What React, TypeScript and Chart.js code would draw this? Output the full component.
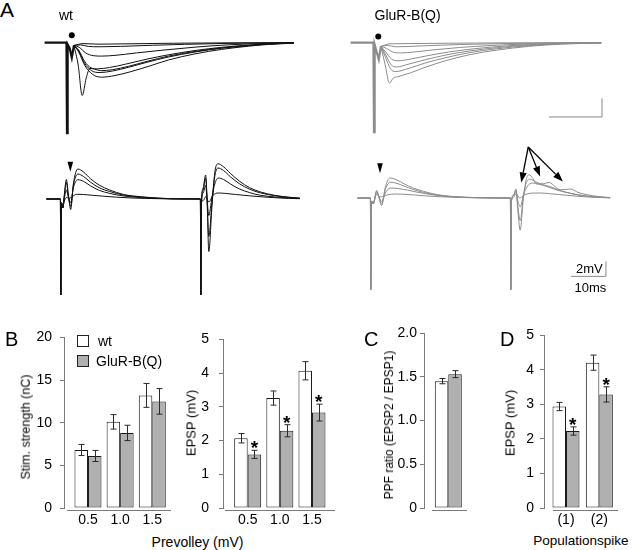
import React, { useEffect, useRef } from "react";
import { Chart, registerables } from "chart.js";

Chart.register(...registerables);

const FONT = '"Liberation Sans", Arial, Helvetica, sans-serif';
Chart.defaults.font.family = FONT;

type P = [number, number];

// ---------------- Panel A: field potential traces (time ms after stimulus, mV) ----------------
const wtTopStim: P[] = [[-4.2, 0], [-0.1, 0], [0, -4.85], [0.12, -0.1], [0.5, -0.3], [0.9, -0.8], [1.3, -0.15]];
const wtTopTraces: P[][] = [
  [[1.3, -0.15], [3, -0.05], [6, -0.08], [12, -0.06], [20, -0.03], [30, -0.01], [42.5, 0]],
  [[1.3, -0.15], [2.5, -0.12], [4, -0.2], [6, -0.22], [10, -0.2], [16, -0.14], [22, -0.09], [30, -0.04], [38, -0.01], [42.5, 0]],
  [[1.3, -0.15], [2.3, -0.25], [3.5, -0.55], [5, -0.7], [6.5, -0.72], [9, -0.68], [13, -0.55], [18, -0.4], [24, -0.24], [30, -0.12], [36, -0.05], [42.5, -0.01]],
  [[1.3, -0.15], [2.2, -0.4], [3.3, -1.0], [4.5, -1.35], [5.8, -1.4], [8, -1.33], [11, -1.15], [15, -0.88], [19, -0.65], [24, -0.42], [29, -0.25], [34, -0.13], [38, -0.06], [42.5, -0.02]],
  [[1.3, -0.15], [2.2, -0.45], [3.3, -1.1], [4.6, -1.5], [6.2, -1.6], [8.5, -1.52], [11.5, -1.32], [15, -1.05], [19, -0.77], [24, -0.5], [29, -0.3], [34, -0.16], [38, -0.07], [42.5, -0.02]],
  [[1.3, -0.15], [2.2, -0.5], [3.3, -1.2], [4.8, -1.7], [6.5, -1.85], [9, -1.76], [12, -1.55], [15.5, -1.25], [19, -0.93], [24, -0.6], [29, -0.36], [34, -0.19], [38, -0.09], [42.5, -0.03]],
  [[1.3, -0.15], [2.1, -1.2], [2.85, -2.83], [3.6, -1.9], [4.3, -1.38], [5.2, -1.42], [6.3, -1.5], [8.5, -1.45], [11.5, -1.27], [15, -1.0], [19, -0.72], [24, -0.47], [29, -0.28], [34, -0.15], [38, -0.07], [42.5, -0.02]],
];
const wtTopDot: P[] = [[0.9, 0.4]];

const gluTopStim: P[] = [[-4.4, 0], [-0.1, 0], [0, -4.8], [0.12, -0.1], [0.5, -0.5], [0.9, -0.9], [1.3, -0.2]];
const gluTopTraces: P[][] = [
  [[1.3, -0.2], [3, -0.06], [6, -0.05], [14, -0.03], [25, -0.01], [42.6, 0]],
  [[1.3, -0.2], [2.5, -0.15], [4, -0.22], [6, -0.21], [10, -0.16], [16, -0.1], [24, -0.05], [32, -0.02], [42.6, 0]],
  [[1.3, -0.2], [2.3, -0.3], [3.5, -0.5], [5, -0.55], [7.5, -0.5], [11, -0.39], [16, -0.26], [22, -0.15], [29, -0.07], [36, -0.03], [42.6, 0]],
  [[1.3, -0.2], [2.2, -0.5], [3.3, -0.88], [4.5, -0.97], [7, -0.87], [10, -0.7], [14, -0.5], [19, -0.32], [25, -0.17], [31, -0.08], [37, -0.03], [42.6, -0.01]],
  [[1.3, -0.2], [2.2, -0.65], [3.2, -1.18], [4.2, -1.3], [6.5, -1.15], [9.5, -0.92], [13.5, -0.66], [18, -0.44], [23, -0.27], [29, -0.13], [35, -0.05], [42.6, -0.01]],
  [[1.3, -0.2], [2.1, -0.75], [3.1, -1.4], [4, -1.55], [6.5, -1.38], [9.5, -1.1], [13.5, -0.8], [18, -0.53], [23, -0.33], [29, -0.16], [35, -0.06], [42.6, -0.01]],
  [[1.3, -0.2], [2.1, -1.2], [2.9, -2.17], [3.6, -1.9], [4.4, -1.83], [6.8, -1.62], [9.8, -1.3], [13.5, -0.96], [18, -0.64], [23, -0.4], [29, -0.2], [35, -0.08], [42.6, -0.02]],
];
const gluTopDot: P[] = [[0.8, 0.33]];
const topScaleBar: P[] = [[32.8, -3.98], [42.75, -3.98], [42.75, -2.98]]; // 10 ms, 1 mV

const wtPairTraces: P[][] = [
  [[-4.1, 0], [-0.1, 0], [0, -12.8], [0.2, -0.5], [0.6, -1.2], [1.0, 0.5], [1.6, 2.6], [2.2, 0.5], [2.85, -1.4], [3.6, 2.0], [4.9, 4.0], [6.5, 3.6], [8.5, 2.7], [11, 1.85], [14, 1.2], [18, 0.6], [23, 0.3], [28, 0.12], [34, 0.03], [39.9, 0], [40, -12.8], [40.2, -0.5], [40.7, 1.5], [41.4, 3.2], [41.8, 0], [42.3, -7.0], [43.2, -1.0], [44, 3.5], [44.9, 4.7], [46.5, 4.3], [48.5, 3.4], [51, 2.4], [54, 1.5], [57, 0.95], [61, 0.5], [65, 0.25], [68.3, 0.12]],
  [[-4.1, 0], [-0.1, 0], [0, -12.8], [0.2, -0.5], [0.6, -1.2], [1.0, 0.3], [1.6, 2.2], [2.2, 0.3], [2.85, -1.0], [3.6, 1.8], [4.9, 3.33], [6.5, 3.0], [8.5, 2.25], [11, 1.5], [14, 1.0], [18, 0.52], [23, 0.25], [28, 0.1], [34, 0.02], [39.9, 0], [40, -12.8], [40.2, -0.5], [40.7, 1.2], [41.4, 2.8], [41.8, 0], [42.3, -5.0], [43.2, -0.5], [44, 3.0], [44.9, 4.13], [46.5, 3.8], [48.5, 2.95], [51, 2.05], [54, 1.3], [57, 0.82], [61, 0.45], [65, 0.22], [68.3, 0.1]],
  [[-4.1, 0], [-0.1, 0], [0, -12.8], [0.2, -0.5], [0.6, -1.2], [1.0, 0], [1.6, 1.2], [2.2, 0.2], [2.85, -0.5], [3.6, 1.5], [4.9, 2.57], [6.5, 2.35], [8.5, 1.75], [11, 1.15], [14, 0.75], [18, 0.4], [23, 0.18], [28, 0.07], [34, 0.01], [39.9, 0], [40, -12.8], [40.2, -0.5], [40.7, 0.8], [41.4, 1.8], [41.8, 0], [42.3, -2.2], [43.2, 0.2], [44, 2.0], [45, 2.8], [46.5, 2.6], [48.5, 2.0], [51, 1.35], [54, 0.85], [57, 0.5], [61, 0.28], [65, 0.13], [68.3, 0.06]],
  [[-4.1, 0], [-0.1, 0], [0, -12.8], [0.2, -0.5], [0.6, -1.0], [1.0, -0.3], [1.6, 0.2], [2.4, 0.1], [3.2, 0.3], [4.6, 0.63], [6.5, 0.6], [9, 0.5], [12, 0.38], [16, 0.24], [21, 0.12], [27, 0.05], [33, 0.01], [39.9, 0], [40, -12.8], [40.2, -0.5], [40.7, -0.2], [41.4, 0.3], [42.3, -0.4], [43.5, 0.5], [45, 0.8], [47, 0.75], [50, 0.6], [54, 0.42], [58, 0.27], [62, 0.15], [65, 0.08], [68.3, 0.04]],
];
const wtPairMarker: P[] = [[2.73, 3.64]];

const gluPairTraces: P[][] = [
  [[-3.8, 0], [-0.1, 0], [0, -12.2], [0.2, -0.4], [0.7, -0.8], [1.7, 1.0], [2.4, 0], [3.1, -1.0], [4.2, 1.5], [5.5, 2.67], [7.5, 2.4], [9.5, 1.9], [12, 1.35], [15, 0.9], [19, 0.45], [24, 0.18], [30, 0.06], [36, 0.01], [39.9, 0], [40, -12.2], [40.2, -0.4], [40.8, 0.4], [41.5, 1.2], [42, -1.5], [42.7, -4.3], [43.6, 0], [44.5, 2.6], [45.3, 3.1], [46.3, 2.6], [47.4, 1.87], [49.3, 1.9], [51, 2.08], [52.6, 1.55], [54.1, 1.1], [55.7, 1.12], [57.1, 1.2], [59.2, 0.75], [61.7, 0.44], [65, 0.2], [68.4, 0.05]],
  [[-3.8, 0], [-0.1, 0], [0, -12.2], [0.2, -0.4], [0.7, -0.8], [1.7, 0.9], [2.4, 0], [3.1, -0.8], [4.2, 1.2], [5.6, 2.1], [7.5, 1.95], [9.5, 1.6], [12, 1.15], [15, 0.75], [19, 0.38], [24, 0.15], [30, 0.05], [36, 0.01], [39.9, 0], [40, -12.2], [40.2, -0.4], [40.8, 0.3], [41.5, 1.0], [42, -1.0], [42.7, -3.0], [43.6, 0.2], [44.5, 2.1], [45.5, 2.5], [47, 2.2], [49, 1.8], [51, 1.55], [53.5, 1.1], [56, 0.75], [59, 0.45], [62, 0.25], [65, 0.12], [68.4, 0.04]],
  [[-3.8, 0], [-0.1, 0], [0, -12.2], [0.2, -0.4], [0.7, -0.8], [1.7, 0.7], [2.4, 0.1], [3.1, -0.5], [4.3, 0.8], [5.8, 1.33], [8, 1.25], [10.5, 1.05], [13, 0.8], [16, 0.55], [20, 0.3], [25, 0.12], [31, 0.04], [36, 0.01], [39.9, 0], [40, -12.2], [40.2, -0.4], [40.8, 0.3], [41.5, 0.9], [42, -0.3], [42.7, -1.2], [43.6, 0.4], [44.8, 1.6], [46.2, 2.0], [48, 1.85], [50.5, 1.5], [53, 1.1], [56, 0.72], [59, 0.42], [62, 0.22], [65, 0.1], [68.4, 0.03]],
  [[-3.8, 0], [-0.1, 0], [0, -12.2], [0.2, -0.4], [0.7, -0.6], [1.7, 0.5], [2.6, 0.15], [3.4, 0.2], [5, 0.45], [7, 0.53], [9.5, 0.5], [12.5, 0.4], [16, 0.27], [21, 0.14], [27, 0.05], [33, 0.01], [39.9, 0], [40, -12.2], [40.2, -0.4], [40.8, 0.1], [41.5, 0.6], [42.5, 0], [43.8, 0.4], [46, 0.65], [48.5, 0.67], [51, 0.58], [54, 0.45], [57.5, 0.3], [61, 0.17], [64.5, 0.08], [68.4, 0.03]],
];
const gluPairMarker: P[] = [[2.64, 3.29]];
const gluArrowFrom: P = [45.0, 6.8];
const gluArrowTo: P[] = [[43.0, 2.08], [48.4, 2.88], [54.9, 2.21]];
const pairScaleBar: P[] = [[57.2, -10.45], [67.2, -10.45], [67.2, -8.45]]; // 10 ms, 2 mV

// ---------------- Panels B-D: bar data ----------------
const prevolley = [0.5, 1.0, 1.5];
const prevolleyLabels = ["0.5", "1.0", "1.5"];
const stimWt = [6.8, 10.1, 13.2];
const stimWtErr = [0.65, 0.85, 1.4];
const stimGlu = [6.1, 8.8, 12.5];
const stimGluErr = [0.65, 0.9, 1.5];

const epspWt = [2.07, 3.26, 4.07];
const epspWtErr = [0.14, 0.21, 0.27];
const epspGlu = [1.59, 2.29, 2.83];
const epspGluErr = [0.12, 0.18, 0.25];
const epspSig = [true, true, true];

const ppfCat = [1];
const ppfWt = [1.45];
const ppfWtErr = [0.03];
const ppfGlu = [1.53];
const ppfGluErr = [0.04];

const popCat = [1, 2];
const popLabels = ["(1)", "(2)"];
const popWt = [2.94, 4.21];
const popWtErr = [0.12, 0.22];
const popGlu = [2.23, 3.29];
const popGluErr = [0.12, 0.22];
const popSig = [true, true];

const WT_FILL = "#ffffff";
const GLU_FILL = "#b0b0b0";
const AXIS = "#7a7a7a";

const pts = (a: P[]) => a.map(([x, y]) => ({ x, y }));

function traceConfig(o: {
  stim?: P[];
  traces: P[][];
  color: string;
  dot?: P[];
  scaleBar?: P[];
  markers?: P[];
  arrowFrom?: P;
  arrowTo?: P[];
  xMin: number; xMax: number; yMin: number; yMax: number;
}): any {
  const datasets: any[] = [];
  if (o.stim) datasets.push({ data: pts(o.stim), showLine: true, borderColor: o.color, borderWidth: 2.2, pointRadius: 0, tension: 0 });
  o.traces.forEach((t) =>
    datasets.push({ data: pts(t), showLine: true, borderColor: o.color, borderWidth: 1, pointRadius: 0, cubicInterpolationMode: "monotone" })
  );
  if (o.dot) datasets.push({ data: pts(o.dot), showLine: false, pointRadius: 3, pointBackgroundColor: "#000", pointBorderWidth: 0 });
  if (o.scaleBar) datasets.push({ data: pts(o.scaleBar), showLine: true, borderColor: "#8a8a8a", borderWidth: 1, pointRadius: 0, tension: 0 });
  const marks = {
    id: "marks",
    afterDatasetsDraw(chart: any) {
      const ctx = chart.ctx;
      const xs = chart.scales.x, ys = chart.scales.y;
      ctx.save();
      ctx.fillStyle = "#000";
      ctx.strokeStyle = "#000";
      (o.markers || []).forEach(([x, y]) => {
        const px = xs.getPixelForValue(x), py = ys.getPixelForValue(y);
        ctx.beginPath();
        ctx.moveTo(px, py);
        ctx.lineTo(px - 2.8, py - 10);
        ctx.lineTo(px + 2.8, py - 10);
        ctx.closePath();
        ctx.fill();
      });
      if (o.arrowFrom && o.arrowTo) {
        const fx = xs.getPixelForValue(o.arrowFrom[0]), fy = ys.getPixelForValue(o.arrowFrom[1]);
        o.arrowTo.forEach(([x, y]) => {
          const tx = xs.getPixelForValue(x), ty = ys.getPixelForValue(y);
          const ang = Math.atan2(ty - fy, tx - fx);
          const hl = 10, hw = 3.6;
          const bx = tx - hl * Math.cos(ang), by = ty - hl * Math.sin(ang);
          ctx.lineWidth = 1.3;
          ctx.beginPath();
          ctx.moveTo(fx, fy);
          ctx.lineTo(bx, by);
          ctx.stroke();
          ctx.beginPath();
          ctx.moveTo(tx, ty);
          ctx.lineTo(bx + hw * Math.sin(ang), by - hw * Math.cos(ang));
          ctx.lineTo(bx - hw * Math.sin(ang), by + hw * Math.cos(ang));
          ctx.closePath();
          ctx.fill();
        });
      }
      ctx.restore();
    },
  };
  return {
    type: "scatter",
    data: { datasets },
    options: {
      animation: false,
      responsive: true,
      maintainAspectRatio: false,
      layout: { padding: 0 },
      plugins: { legend: { display: false }, tooltip: { enabled: false } },
      scales: {
        x: { type: "linear", display: false, min: o.xMin, max: o.xMax },
        y: { type: "linear", display: false, min: o.yMin, max: o.yMax },
      },
    },
    plugins: [marks],
  };
}

function barConfig(o: {
  cats: number[];
  labels: string[] | null;
  wt: number[]; wtErr: number[];
  glu: number[]; gluErr: number[];
  sig: boolean[] | null;
  xMin: number; xMax: number;
  yMax: number; yStep: number;
  yWidth: number; tickPad: number; lineStart: number;
}): any {
  const series = [
    { values: o.wt, errors: o.wtErr, sig: null as boolean[] | null, fill: WT_FILL, label: "wt" },
    { values: o.glu, errors: o.gluErr, sig: o.sig, fill: GLU_FILL, label: "GluR-B(Q)" },
  ];
  const plugin = {
    id: "errbars",
    afterDatasetsDraw(chart: any) {
      const ctx = chart.ctx;
      const ys = chart.scales.y;
      const a = chart.chartArea;
      ctx.save();
      series.forEach((s, di) => {
        const meta = chart.getDatasetMeta(di);
        meta.data.forEach((el: any, i: number) => {
          const v = s.values[i], e = s.errors[i];
          const x = Math.round(el.x) + 0.5;
          const y1 = ys.getPixelForValue(v + e), y2 = ys.getPixelForValue(v - e);
          ctx.strokeStyle = "#2a2a2a";
          ctx.lineWidth = 1;
          ctx.beginPath();
          ctx.moveTo(x, y1); ctx.lineTo(x, y2);
          ctx.moveTo(x - 3, y1); ctx.lineTo(x + 3, y1);
          ctx.moveTo(x - 3, y2); ctx.lineTo(x + 3, y2);
          ctx.stroke();
          if (s.sig && s.sig[i]) {
            ctx.fillStyle = "#000";
            ctx.font = `bold 19px ${FONT}`;
            ctx.textAlign = "center";
            ctx.textBaseline = "alphabetic";
            ctx.fillText("*", el.x, y1 - 7 + 11);
          }
        });
      });
      ctx.strokeStyle = AXIS;
      ctx.lineWidth = 1;
      ctx.beginPath();
      ctx.moveTo(a.left + o.lineStart, a.bottom + 2.5);
      ctx.lineTo(a.right, a.bottom + 2.5);
      ctx.stroke();
      ctx.restore();
    },
  };
  return {
    type: "bar",
    data: {
      datasets: series.map((s) => ({
        label: s.label,
        data: o.cats.map((c, i) => ({ x: c, y: s.values[i] })),
        backgroundColor: s.fill,
        borderColor: "#1a1a1a",
        borderWidth: 1,
        borderSkipped: false,
        barThickness: 13.5,
        inflateAmount: 0,
      })),
    },
    options: {
      animation: false,
      responsive: true,
      maintainAspectRatio: false,
      layout: { padding: { top: 12, right: 4, left: 0, bottom: 0 } },
      plugins: { legend: { display: false }, tooltip: { enabled: false } },
      scales: {
        x: {
          type: "linear",
          min: o.xMin,
          max: o.xMax,
          offset: false,
          grid: { display: false, drawTicks: false },
          border: { display: false },
          afterBuildTicks: (s: any) => {
            s.ticks = o.labels ? o.cats.map((c) => ({ value: c })) : [];
          },
          ticks: {
            display: !!o.labels,
            autoSkip: false,
            maxRotation: 0,
            padding: 4,
            color: "#000",
            font: { size: 14, family: FONT },
            callback: (_v: any, i: number) => (o.labels ? o.labels[i] : ""),
          },
          afterFit: (s: any) => { s.height = 22; },
        },
        y: {
          min: 0,
          max: o.yMax,
          ticks: { stepSize: o.yStep, padding: o.tickPad, color: "#000", font: { size: 14, family: FONT } },
          grid: { drawOnChartArea: false, drawTicks: true, tickLength: 4, color: AXIS },
          border: { display: true, color: AXIS },
          afterFit: (s: any) => { s.width = o.yWidth; },
        },
      },
    },
    plugins: [plugin],
  };
}

function ChartBox({ left, top, width, height, config }: { left: number; top: number; width: number; height: number; config: () => any }) {
  const ref = useRef<HTMLCanvasElement | null>(null);
  useEffect(() => {
    if (!ref.current) return;
    const c = new Chart(ref.current, config());
    return () => c.destroy();
  }, []);
  return (
    <div style={{ position: "absolute", left, top, width, height }}>
      <canvas ref={ref} />
    </div>
  );
}

function Txt({ x, y, size, children, center, bold }: { x: number; y: number; size: number; children: React.ReactNode; center?: boolean; bold?: boolean }) {
  return (
    <div
      style={{
        position: "absolute",
        left: x,
        top: y,
        fontSize: size,
        lineHeight: 1,
        whiteSpace: "nowrap",
        fontWeight: bold ? "bold" : "normal",
        transform: center ? "translateX(-50%)" : undefined,
      }}
    >
      {children}
    </div>
  );
}

function VTxt({ cx, cy, size, children }: { cx: number; cy: number; size: number; children: React.ReactNode }) {
  return (
    <div
      style={{
        position: "absolute",
        left: cx,
        top: cy,
        fontSize: size,
        lineHeight: 1,
        whiteSpace: "nowrap",
        transform: "translate(-50%, -50%) rotate(-90deg)",
      }}
    >
      {children}
    </div>
  );
}

export default function App() {
  return (
    <div
      style={{
        position: "fixed",
        left: 0,
        top: 0,
        width: 640,
        height: 550,
        background: "#fff",
        overflow: "hidden",
        fontFamily: FONT,
        color: "#000",
      }}
    >
      {/* Panel A traces */}
      <ChartBox left={39} top={20} width={264} height={120}
        config={() => traceConfig({ stim: wtTopStim, traces: wtTopTraces, color: "#111", dot: wtTopDot, xMin: -4.5, xMax: 43.5, yMin: -5, yMax: 1 })} />
      <ChartBox left={346} top={20} width={264} height={120}
        config={() => traceConfig({ stim: gluTopStim, traces: gluTopTraces, color: "#8c8c8c", dot: gluTopDot, scaleBar: topScaleBar, xMin: -4.5, xMax: 43.5, yMin: -5, yMax: 1 })} />
      <ChartBox left={45} top={139} width={266} height={162}
        config={() => traceConfig({ traces: wtPairTraces, color: "#111", markers: wtPairMarker, xMin: -4.5, xMax: 71.5, yMin: -13.6, yMax: 8 })} />
      <ChartBox left={355} top={138} width={266} height={162}
        config={() => traceConfig({ traces: gluPairTraces, color: "#8c8c8c", markers: gluPairMarker, arrowFrom: gluArrowFrom, arrowTo: gluArrowTo, scaleBar: pairScaleBar, xMin: -4.5, xMax: 71.5, yMin: -13.6, yMax: 8 })} />

      {/* Panels B-D */}
      <ChartBox left={14} top={321} width={161} height={209}
        config={() => barConfig({ cats: prevolley, labels: prevolleyLabels, wt: stimWt, wtErr: stimWtErr, glu: stimGlu, gluErr: stimGluErr, sig: null, xMin: 0.127, xMax: 1.791, yMax: 20, yStep: 5, yWidth: 50, tickPad: 8, lineStart: 3 })} />
      <ChartBox left={180} top={321} width={159} height={209}
        config={() => barConfig({ cats: prevolley, labels: prevolleyLabels, wt: epspWt, wtErr: epspWtErr, glu: epspGlu, gluErr: epspGluErr, sig: epspSig, xMin: 0.116, xMax: 1.858, yMax: 5, yStep: 1, yWidth: 43, tickPad: 10, lineStart: 2 })} />
      <ChartBox left={396} top={321} width={75} height={209}
        config={() => barConfig({ cats: ppfCat, labels: null, wt: ppfWt, wtErr: ppfWtErr, glu: ppfGlu, gluErr: ppfGluErr, sig: null, xMin: 0, xMax: 1.77, yMax: 2, yStep: 0.5, yWidth: 28, tickPad: 3, lineStart: 8 })} />
      <ChartBox left={515} top={321} width={107} height={209}
        config={() => barConfig({ cats: popCat, labels: popLabels, wt: popWt, wtErr: popWtErr, glu: popGlu, gluErr: popGluErr, sig: popSig, xMin: 0.34, xMax: 2.56, yMax: 5, yStep: 1, yWidth: 29, tickPad: 6, lineStart: 9 })} />

      {/* Text */}
      <Txt x={0} y={-1} size={21}>A</Txt>
      <Txt x={59} y={8} size={14}>wt</Txt>
      <Txt x={374.5} y={7.6} size={14}>GluR-B(Q)</Txt>
      <Txt x={576} y={261.7} size={13}>2mV</Txt>
      <Txt x={574.5} y={280.7} size={13}>10ms</Txt>

      <Txt x={5} y={328.6} size={20}>B</Txt>
      <Txt x={364} y={328.6} size={20}>C</Txt>
      <Txt x={500} y={328.6} size={20}>D</Txt>

      <div style={{ position: "absolute", left: 77, top: 335, width: 12, height: 12, boxSizing: "border-box", border: "1px solid #222", background: WT_FILL }} />
      <div style={{ position: "absolute", left: 77, top: 355, width: 12, height: 12, boxSizing: "border-box", border: "1px solid #222", background: GLU_FILL }} />
      <Txt x={98} y={333.6} size={14}>wt</Txt>
      <Txt x={96} y={354.1} size={14}>GluR-B(Q)</Txt>

      <VTxt cx={25.5} cy={426.5} size={12.5}>Stim. strength (nC)</VTxt>
      <VTxt cx={190.5} cy={423} size={13}>EPSP (mV)</VTxt>
      <VTxt cx={389} cy={425} size={12}>PPF ratio (EPSP2 / EPSP1)</VTxt>
      <VTxt cx={509.5} cy={423} size={13}>EPSP (mV)</VTxt>

      <Txt x={197.5} y={535.1} size={14} center>Prevolley (mV)</Txt>
      <Txt x={580.8} y={534.1} size={13.5} center>Populationspike</Txt>
    </div>
  );
}
